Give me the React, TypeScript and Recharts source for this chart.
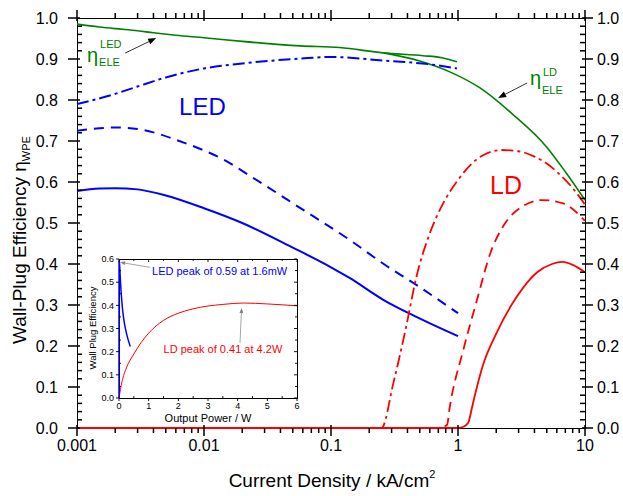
import React from 'react';
import { LineChart, Line, XAxis, YAxis, ReferenceDot } from 'recharts';

const FONT = '"Liberation Sans", Arial, Helvetica, sans-serif';
const GREEN = '#008000';
const BLUE = '#0000ff';
const RED = '#ff0000';
const GREY = '#808080';

// ---------- main chart: efficiency vs current density (kA/cm²) ----------
// electrical efficiency, LED
const ledEleJ = [0.001, 0.0015, 0.002, 0.003, 0.004, 0.006, 0.01, 0.02, 0.057, 0.117, 0.257, 0.53, 0.75, 0.98];
const ledEle = [0.985, 0.978, 0.974, 0.969, 0.964, 0.958, 0.952, 0.943, 0.932, 0.928, 0.915, 0.908, 0.903, 0.893];
// electrical efficiency, LD
const ldEleJ = [0.26, 0.5, 0.87, 1.48, 2.7, 5.0, 7.0, 10];
const ldEle = [0.915, 0.895, 0.868, 0.83, 0.765, 0.685, 0.625, 0.556];
// LED dash-dot curve
const ledInjJ = [0.001, 0.002, 0.003, 0.005, 0.01, 0.02, 0.057, 0.1, 0.26, 0.6, 0.98];
const ledInj = [0.79, 0.815, 0.833, 0.855, 0.877, 0.889, 0.901, 0.905, 0.896, 0.887, 0.877];
// LED dashed curve
const ledExtJ = [0.001, 0.0015, 0.002, 0.003, 0.004, 0.006, 0.01, 0.014, 0.023, 0.057, 0.14, 0.26, 0.47, 1.0];
const ledExt = [0.725, 0.731, 0.733, 0.729, 0.721, 0.703, 0.677, 0.656, 0.615, 0.537, 0.459, 0.4, 0.349, 0.28];
// LED wall-plug efficiency
const ledWpeJ = [0.001, 0.0015, 0.002, 0.003, 0.005, 0.01, 0.02, 0.05, 0.1, 0.14, 0.26, 0.47, 1.0];
const ledWpe = [0.578, 0.584, 0.585, 0.582, 0.567, 0.536, 0.5, 0.44, 0.392, 0.366, 0.312, 0.271, 0.224];
// LD wall-plug efficiency
const ldWpeJ = [0.001, 1.0, 1.1, 1.2, 1.3, 1.41, 1.56, 2.0, 2.9, 4.2, 5.5, 6.6, 8.0, 10];
const ldWpe = [0, 0, 0.003, 0.012, 0.055, 0.1, 0.15, 0.23, 0.32, 0.38, 0.4, 0.405, 0.398, 0.38];
// LD dashed curve
const ldExtJ = [0.001, 0.72, 0.82, 0.86, 1.1, 1.41, 1.8, 2.3, 3.2, 4.6, 6.7, 10];
const ldExt = [0, 0, 0.008, 0.05, 0.19, 0.312, 0.427, 0.495, 0.54, 0.556, 0.548, 0.505];
// LD dash-dot curve
const ldInjJ = [0.001, 0.25, 0.31, 0.39, 0.47, 0.6, 0.79, 1.0, 1.4, 2.2, 3.0, 4.0, 5.0, 6.0, 8.0, 10];
const ldInj = [0, 0, 0.11, 0.246, 0.368, 0.475, 0.556, 0.605, 0.655, 0.678, 0.675, 0.662, 0.645, 0.625, 0.585, 0.545];

const xMajorTicks = [0.001, 0.01, 0.1, 1, 10];
const xTickLabels = ['0.001', '0.01', '0.1', '1', '10'];
const yMajorTicks = [0, 0.1, 0.2, 0.3, 0.4, 0.5, 0.6, 0.7, 0.8, 0.9, 1.0];
const yTickLabels = ['0.0', '0.1', '0.2', '0.3', '0.4', '0.5', '0.6', '0.7', '0.8', '0.9', '1.0'];

// ---------- inset: efficiency vs output power (W) ----------
const insetLedP = [0, 0.0016, 0.02, 0.05, 0.1, 0.15, 0.2, 0.25, 0.3, 0.38];
const insetLed = [0, 0.59, 0.575, 0.5, 0.41, 0.35, 0.31, 0.28, 0.255, 0.222];
const insetLdP = [0, 0.1, 0.25, 0.5, 0.75, 1, 1.5, 2, 2.5, 3, 3.5, 4.2, 5, 6];
const insetLd = [0, 0.07, 0.13, 0.19, 0.24, 0.28, 0.335, 0.366, 0.385, 0.397, 0.404, 0.41, 0.406, 0.398];
const insetXTicks = [0, 1, 2, 3, 4, 5, 6];
const insetXLabels = ['0', '1', '2', '3', '4', '5', '6'];
const insetYTicks = [0, 0.1, 0.2, 0.3, 0.4, 0.5, 0.6];
const insetYLabels = ['0.0', '0.1', '0.2', '0.3', '0.4', '0.5', '0.6'];
const ledPeak = { p: 0.0016, eff: 0.59 };
const ldPeak = { p: 4.2, eff: 0.41 };

const pts = (xs: number[], ys: number[]) => xs.map((x, i) => ({ x, y: ys[i] }));

// log-axis minor ticks (2..9 in every decade) and linear minor ticks
const xMinorTicks = [-3, -2, -1, 0].flatMap((e) =>
  [2, 3, 4, 5, 6, 7, 8, 9].map((k) => +(k * Math.pow(10, e)).toPrecision(3))
);
const xAllTicks = [...xMajorTicks, ...xMinorTicks].sort((a, b) => a - b);
const yAllTicks = Array.from({ length: 51 }, (_, i) => +(i * 0.02).toFixed(2));
const insetXAll = Array.from({ length: 13 }, (_, i) => i * 0.5);
const insetYAll = Array.from({ length: 13 }, (_, i) => +(i * 0.05).toFixed(2));

const majorIndex = (v: number, majors: number[]) => majors.findIndex((m) => Math.abs(m - v) < 1e-9);

// axis tick labels (majors only)
function makeLabel(side: 'bottom' | 'left' | 'right', majors: number[], labels: string[], fontSize: number, gap: number) {
  return (props: any) => {
    const x = Number(props.x);
    const y = Number(props.y);
    const i = majorIndex(Number(props.payload.value), majors);
    if (i < 0) return <g />;
    if (side === 'bottom')
      return <text x={x} y={y + gap} textAnchor="middle" fontFamily={FONT} fontSize={fontSize} fill="#000">{labels[i]}</text>;
    if (side === 'left')
      return <text x={x - gap} y={y + fontSize * 0.36} textAnchor="end" fontFamily={FONT} fontSize={fontSize} fill="#000">{labels[i]}</text>;
    return <text x={x + gap} y={y + fontSize * 0.36} textAnchor="start" fontFamily={FONT} fontSize={fontSize} fill="#000">{labels[i]}</text>;
  };
}

type MarkSpec = { majIn: number; majOut: number; minIn: number; minOut: number; w: number };

// tick marks placed through the chart scales: one zero-radius reference dot per tick
function tickMarks(
  key: string,
  side: 'bottom' | 'top' | 'left' | 'right',
  values: number[],
  majors: number[],
  at: number,
  spec: MarkSpec
) {
  return values.map((v) => {
    const major = majorIndex(v, majors) >= 0;
    const tin = major ? spec.majIn : spec.minIn;
    const tout = major ? spec.majOut : spec.minOut;
    const w = spec.w;
    const horiz = side === 'bottom' || side === 'top';
    const shape = (p: any) => {
      const cx = p.cx;
      const cy = p.cy;
      if (side === 'bottom') return <rect x={cx - w / 2} y={cy - tin} width={w} height={tin + tout} fill="#000" />;
      if (side === 'top') return <rect x={cx - w / 2} y={cy - tout} width={w} height={tin + tout} fill="#000" />;
      if (side === 'left') return <rect x={cx - tout} y={cy - w / 2} width={tin + tout} height={w} fill="#000" />;
      return <rect x={cx - tin} y={cy - w / 2} width={tin + tout} height={w} fill="#000" />;
    };
    return (
      <ReferenceDot
        key={`${key}-${v}`}
        x={horiz ? v : at}
        y={horiz ? at : v}
        r={0}
        ifOverflow="visible"
        shape={shape}
      />
    );
  });
}

function Arrow({ hx, hy, tx, ty, color, width, head }: any) {
  const dx = hx - tx;
  const dy = hy - ty;
  const len = Math.hypot(dx, dy);
  const ux = dx / len;
  const uy = dy / len;
  const bx = hx - ux * head;
  const by = hy - uy * head;
  const w = head * 0.38;
  return (
    <g>
      <line x1={tx} y1={ty} x2={bx} y2={by} stroke={color} strokeWidth={width} />
      <polygon points={`${hx},${hy} ${bx - uy * w},${by + ux * w} ${bx + uy * w},${by - ux * w}`} fill={color} />
    </g>
  );
}

function EtaNote({ cx, cy, sup, sub, supDy, subDy, color }: any) {
  return (
    <g fontFamily={FONT} fill={color}>
      <text x={cx} y={cy} fontSize={20}>η</text>
      <text x={cx + 13} y={cy + supDy} fontSize={11}>{sup}</text>
      <text x={cx + 12} y={cy + subDy} fontSize={11}>{sub}</text>
    </g>
  );
}

// plot frames are drawn underneath the charts so the series lying on y = 0 stay visible
const MAIN_PLOT = { left: 77, top: 18, right: 585, bottom: 428 };
const INSET_POS = { left: 80, top: 250 };
const INSET_PLOT = { left: 39, top: 9, right: 217, bottom: 148 };

function MainChart() {
  return (
    <LineChart width={623} height={496} margin={{ top: 10, right: 0, bottom: 0, left: 0 }}>
      <XAxis
        dataKey="x" type="number" scale="log" domain={[0.001, 10]}
        ticks={xMajorTicks} interval={0} height={68}
        tickLine={false} tickSize={0} tickMargin={0} axisLine={false}
        tick={makeLabel('bottom', xMajorTicks, xTickLabels, 16, 23)}
      />
      <YAxis
        type="number" domain={[0, 1]}
        ticks={yMajorTicks} interval={0} width={77}
        tickLine={false} tickSize={0} tickMargin={0} axisLine={false}
        tick={makeLabel('left', yMajorTicks, yTickLabels, 16, 19)}
      />
      <YAxis
        yAxisId="r" orientation="right"
        type="number" domain={[0, 1]} allowDataOverflow
        ticks={yMajorTicks} interval={0} width={38}
        tickLine={false} tickSize={0} tickMargin={0} axisLine={false}
        tick={makeLabel('right', yMajorTicks, yTickLabels, 16, 12)}
      />
      <XAxis
        xAxisId="t" orientation="top"
        dataKey="x" type="number" scale="log" domain={[0.001, 10]} allowDataOverflow
        ticks={xMajorTicks} height={8}
        tickLine={false} tick={false} axisLine={false}
      />

      {tickMarks('b', 'bottom', xAllTicks, xMajorTicks, 0, { majIn: 3, majOut: 8, minIn: 0, minOut: 5, w: 1.5 })}
      {tickMarks('t', 'top', xAllTicks, xMajorTicks, 1, { majIn: 3, majOut: 8, minIn: 0, minOut: 5, w: 1.5 })}
      {tickMarks('l', 'left', yAllTicks, yMajorTicks, 0.001, { majIn: 3, majOut: 9, minIn: 5, minOut: 0, w: 1.5 })}
      {tickMarks('r', 'right', yAllTicks, yMajorTicks, 10, { majIn: 3, majOut: 8, minIn: 5, minOut: 0, w: 1.5 })}

      <Line data={pts(ledEleJ, ledEle)} dataKey="y" type="monotone" stroke={GREEN} strokeWidth={1.6} dot={false} activeDot={false} isAnimationActive={false} />
      <Line data={pts(ldEleJ, ldEle)} dataKey="y" type="monotone" stroke={GREEN} strokeWidth={1.6} dot={false} activeDot={false} isAnimationActive={false} />
      <Line data={pts(ledInjJ, ledInj)} dataKey="y" type="monotone" stroke={BLUE} strokeWidth={2} strokeDasharray="12 4 3 4" dot={false} activeDot={false} isAnimationActive={false} />
      <Line data={pts(ledExtJ, ledExt)} dataKey="y" type="monotone" stroke={BLUE} strokeWidth={2} strokeDasharray="10 7" dot={false} activeDot={false} isAnimationActive={false} />
      <Line data={pts(ledWpeJ, ledWpe)} dataKey="y" type="monotone" stroke={BLUE} strokeWidth={2} dot={false} activeDot={false} isAnimationActive={false} />
      <Line data={pts(ldInjJ, ldInj)} dataKey="y" type="monotone" stroke={RED} strokeWidth={1.8} strokeDasharray="12 4 3 4" dot={false} activeDot={false} isAnimationActive={false} />
      <Line data={pts(ldExtJ, ldExt)} dataKey="y" type="monotone" stroke={RED} strokeWidth={1.8} strokeDasharray="10 6" dot={false} activeDot={false} isAnimationActive={false} />
      <Line data={pts(ldWpeJ, ldWpe)} dataKey="y" type="monotone" stroke={RED} strokeWidth={1.8} dot={false} activeDot={false} isAnimationActive={false} />

      <ReferenceDot x={0.00636} y={0.763} r={0} ifOverflow="visible"
        shape={(p: any) => <text x={p.cx} y={p.cy} fontFamily={FONT} fontSize={24} fill={BLUE}>LED</text>} />
      <ReferenceDot x={1.79} y={0.571} r={0} ifOverflow="visible"
        shape={(p: any) => <text x={p.cx} y={p.cy} fontFamily={FONT} fontSize={25} fill={RED}>LD</text>} />
      <ReferenceDot x={0.0012} y={0.893} r={0} ifOverflow="visible"
        shape={(p: any) => <EtaNote cx={p.cx} cy={p.cy} sup="LED" sub="ELE" supDy={-14} subDy={4} color={GREEN} />} />
      <ReferenceDot x={3.69} y={0.837} r={0} ifOverflow="visible"
        shape={(p: any) => <EtaNote cx={p.cx} cy={p.cy} sup="LD" sub="ELE" supDy={-9} subDy={9} color={GREEN} />} />
      <ReferenceDot x={0.0042} y={0.951} r={0} ifOverflow="visible"
        shape={(p: any) => <Arrow hx={p.cx} hy={p.cy} tx={p.cx - 31} ty={p.cy + 15} color="#000" width={0.8} head={8} />} />
      <ReferenceDot x={2.07} y={0.805} r={0} ifOverflow="visible"
        shape={(p: any) => <Arrow hx={p.cx} hy={p.cy} tx={p.cx + 29} ty={p.cy - 15} color="#000" width={0.8} head={8} />} />
    </LineChart>
  );
}

function InsetChart() {
  return (
    <LineChart width={225} height={180} margin={{ top: 9, right: 8, bottom: 12, left: 15 }}>
      <XAxis
        dataKey="x" type="number" domain={[0, 6]}
        ticks={insetXTicks} interval={0} height={20}
        tickLine={false} tickSize={0} tickMargin={0} axisLine={false}
        tick={makeLabel('bottom', insetXTicks, insetXLabels, 9, 11)}
      />
      <YAxis
        type="number" domain={[0, 0.6]}
        ticks={insetYTicks} interval={0} width={24}
        tickLine={false} tickSize={0} tickMargin={0} axisLine={false}
        tick={makeLabel('left', insetYTicks, insetYLabels, 9, 5)}
      />

      {tickMarks('b', 'bottom', insetXAll, insetXTicks, 0, { majIn: 0, majOut: 3, minIn: 2, minOut: 0, w: 0.9 })}
      {tickMarks('t', 'top', insetXAll, insetXTicks, 0.6, { majIn: 3, majOut: 0, minIn: 2, minOut: 0, w: 0.9 })}
      {tickMarks('l', 'left', insetYAll, insetYTicks, 0, { majIn: 0, majOut: 3, minIn: 2, minOut: 0, w: 0.9 })}
      {tickMarks('r', 'right', insetYAll, insetYTicks, 6, { majIn: 3, majOut: 0, minIn: 2, minOut: 0, w: 0.9 })}

      <Line data={pts(insetLdP, insetLd)} dataKey="y" type="monotone" stroke={RED} strokeWidth={1} dot={false} activeDot={false} isAnimationActive={false} />
      <Line data={pts(insetLedP, insetLed)} dataKey="y" type="monotone" stroke={BLUE} strokeWidth={1.5} dot={false} activeDot={false} isAnimationActive={false} />
      <ReferenceDot x={ledPeak.p} y={ledPeak.eff} r={0} ifOverflow="visible"
        shape={(p: any) => (
          <g>
            <Arrow hx={p.cx + 1} hy={p.cy + 1} tx={p.cx + 31} ty={p.cy + 6} color={GREY} width={0.7} head={5} />
            <text x={p.cx + 33} y={p.cy + 14} fontFamily={FONT} fontSize={11} fill={BLUE}>
              LED peak of {ledPeak.eff.toFixed(2)} at 1.6mW
            </text>
          </g>
        )} />
      <ReferenceDot x={ldPeak.p} y={ldPeak.eff} r={0} ifOverflow="visible"
        shape={(p: any) => (
          <g>
            <Arrow hx={p.cx - 2} hy={p.cy + 5} tx={p.cx - 3.6} ty={p.cy + 40} color={GREY} width={0.7} head={5} />
            <text x={p.cx - 80} y={p.cy + 50} fontFamily={FONT} fontSize={11} fill={RED}>
              LD peak of {ldPeak.eff.toFixed(2)} at {ldPeak.p.toFixed(1)}W
            </text>
          </g>
        )} />
    </LineChart>
  );
}

export default function App() {
  const ix = INSET_POS.left;
  const iy = INSET_POS.top;
  return (
    <div style={{ position: 'absolute', left: 0, top: 0, width: 623, height: 496, background: '#fff' }}>
      <svg width={623} height={496} style={{ position: 'absolute', left: 0, top: 0 }}>
        <g fill="none" stroke="#000" strokeWidth={1} shapeRendering="crispEdges">
          <rect x={MAIN_PLOT.left} y={MAIN_PLOT.top} width={MAIN_PLOT.right - MAIN_PLOT.left} height={MAIN_PLOT.bottom - MAIN_PLOT.top} />
          <rect x={ix + INSET_PLOT.left} y={iy + INSET_PLOT.top} width={INSET_PLOT.right - INSET_PLOT.left} height={INSET_PLOT.bottom - INSET_PLOT.top} />
        </g>
      </svg>
      <div style={{ position: 'absolute', left: 0, top: 0 }}>
        <MainChart />
      </div>
      <div style={{ position: 'absolute', left: ix, top: iy }}>
        <InsetChart />
      </div>
      <svg width={623} height={496} style={{ position: 'absolute', left: 0, top: 0, pointerEvents: 'none' }}>
        <g fontFamily={FONT} fill="#000">
          <text transform="translate(26,240) rotate(-90)" textAnchor="middle" fontSize={19}>
            Wall-Plug Efficiency η<tspan fontSize={11} dy={4}>WPE</tspan>
          </text>
          <text x={332} y={487} textAnchor="middle" fontSize={19}>
            Current Density / kA/cm<tspan fontSize={11} dy={-9}>2</tspan>
          </text>
          <text x={208} y={422} textAnchor="middle" fontSize={11}>Output Power / W</text>
          <text transform="translate(96,328) rotate(-90)" textAnchor="middle" fontSize={9.5}>Wall Plug Efficiency</text>
        </g>
      </svg>
    </div>
  );
}
